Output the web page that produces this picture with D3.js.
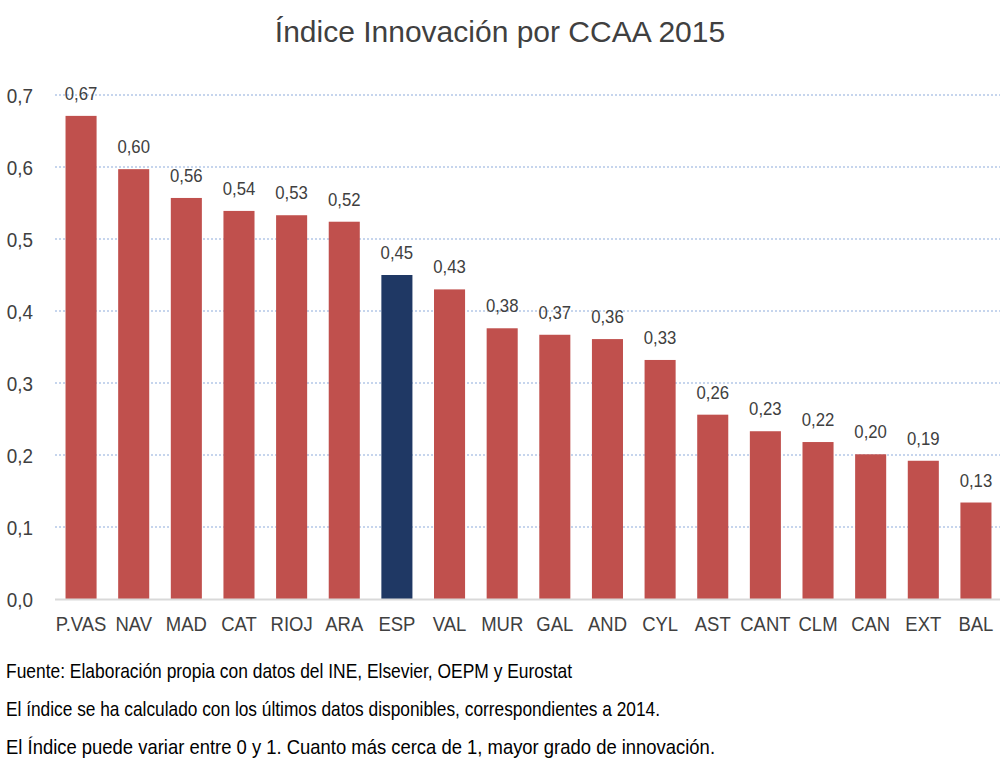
<!DOCTYPE html>
<html><head><meta charset="utf-8">
<script src="https://cdn.jsdelivr.net/npm/d3@7"></script>
<style>
body{margin:0;background:#fff;}
text{font-family:"Liberation Sans Narrow","Arial Narrow","Liberation Sans",Arial,sans-serif;fill:#404040;}
</style></head>
<body><svg id="c" width="1000" height="760"></svg>
<script>
const categories=["P.VAS","NAV","MAD","CAT","RIOJ","ARA","ESP","VAL","MUR","GAL","AND","CYL","AST","CANT","CLM","CAN","EXT","BAL"];
const values=[0.671,0.597,0.557,0.539,0.533,0.524,0.450,0.430,0.376,0.367,0.361,0.332,0.256,0.233,0.218,0.201,0.192,0.134];
const yTicks=[0,0.1,0.2,0.3,0.4,0.5,0.6,0.7];
const title="Índice Innovación por CCAA 2015";
const notes=["Fuente: Elaboración propia con datos del INE, Elsevier, OEPM y Eurostat",
"El índice se ha calculado con los últimos datos disponibles, correspondientes a 2014.",
"El Índice puede variar entre 0 y 1. Cuanto más cerca de 1, mayor grado de innovación."];
const highlight="ESP";

const svg=d3.select("#c");
const fmt=v=>d3.format(".2f")(v).replace(".",",");
const fmt1=v=>d3.format(".1f")(v).replace(".",",");
const x=d3.scaleBand().domain(categories).range([55,1002]).paddingInner(0.41).paddingOuter(0.2);
const y=d3.scaleLinear().domain([0,0.7]).range([599,95]);

// horizontally condense text around its anchor x
function condense(sel,s){
  sel.each(function(){
    const t=d3.select(this);const ax=+t.attr("x")||0;
    t.attr("transform",`translate(${ax},0) scale(${s},1) translate(${-ax},0)`);
  });
}

svg.append("text").attr("x",500).attr("y",42).attr("text-anchor","middle")
  .style("font-size","30px").style("fill","#404040").text(title);

// gridlines
svg.append("g").selectAll("line").data(yTicks.filter(d=>d>0)).join("line")
  .attr("x1",55).attr("x2",1000).attr("y1",d=>y(d)).attr("y2",d=>y(d))
  .attr("stroke","#B4C7E7").attr("stroke-width",1.5).attr("stroke-dasharray","2,2");

// y axis labels
const ya=svg.append("g").attr("transform","translate(33,0)")
  .call(d3.axisLeft(y).tickValues(yTicks).tickFormat(fmt1).tickSize(0).tickPadding(0));
ya.select(".domain").remove();
ya.selectAll("text").style("font-size","21px").style("fill","#404040").attr("dy","0.35em");
condense(ya.selectAll("text"),0.9);

// bars
svg.append("g").selectAll("rect").data(categories).join("rect")
  .attr("x",d=>x(d)).attr("width",x.bandwidth())
  .attr("y",(d,i)=>y(values[i])).attr("height",(d,i)=>y(0)-y(values[i]))
  .attr("fill",d=>d===highlight?"#1F3864":"#C0504D");

// baseline
svg.append("line").attr("x1",55).attr("x2",1000).attr("y1",y(0)+0.5).attr("y2",y(0)+0.5)
  .attr("stroke","#D9D9D9").attr("stroke-width",2);

// value labels
const vl=svg.append("g").selectAll("text").data(categories).join("text")
  .attr("x",d=>x(d)+x.bandwidth()/2).attr("y",(d,i)=>y(values[i])-16)
  .attr("text-anchor","middle").style("font-size","18px").text((d,i)=>fmt(values[i]));
condense(vl,0.93);

// x axis labels
const xa=svg.append("g").attr("transform",`translate(0,${y(0)})`)
  .call(d3.axisBottom(x).tickSize(0).tickPadding(0));
xa.select(".domain").remove();
xa.selectAll("text").attr("dy",null).attr("y",32).style("font-size","21px").style("fill","#404040");
condense(xa.selectAll("text"),0.88);

// notes
const nt=svg.append("g").selectAll("text").data(notes).join("text")
  .attr("x",6).attr("y",(d,i)=>678+i*38).style("font-size","21px").style("fill","#000").text(d=>d);
const noteWidths=[566,654,709];
nt.attr("textLength",(d,i)=>noteWidths[i]).attr("lengthAdjust","spacingAndGlyphs");
</script></body></html>
